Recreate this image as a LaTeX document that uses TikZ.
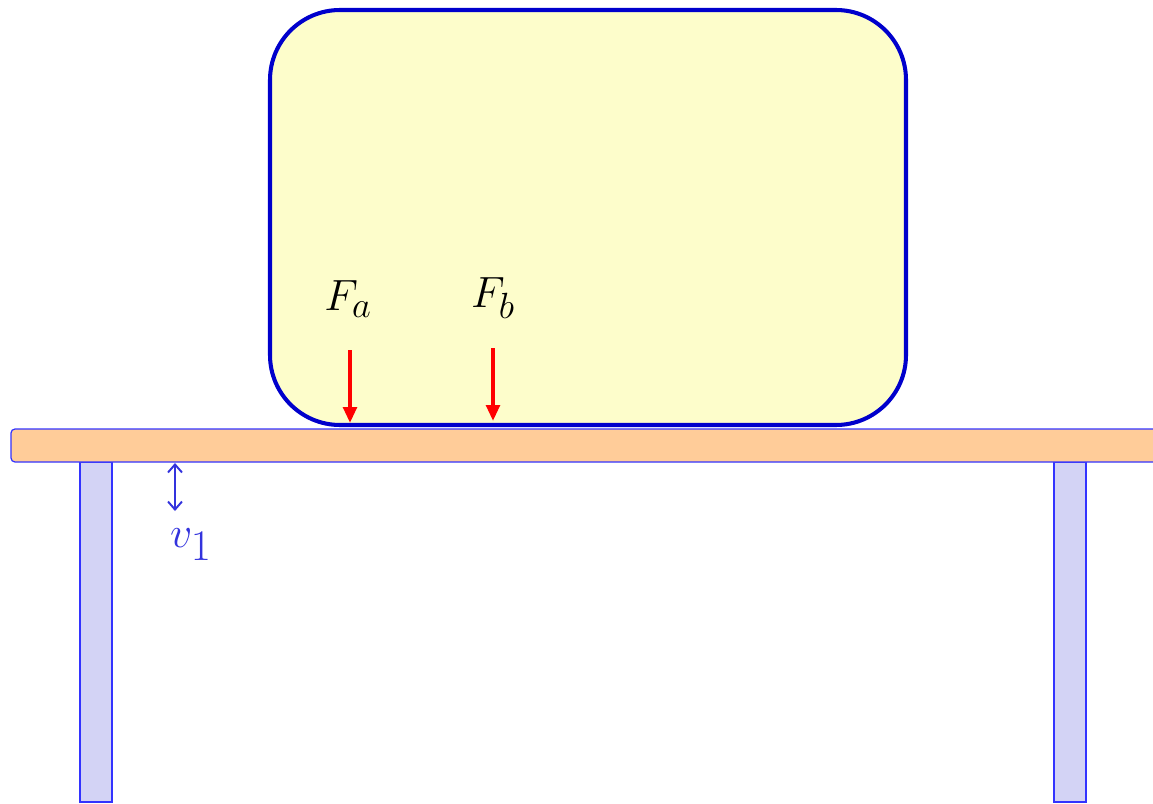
\documentclass[tikz,border=0pt]{standalone}
\usepackage{amsmath,amssymb}
\usepackage{xcolor}
\usepackage{tikz}
\usetikzlibrary{calc,arrows.meta,positioning}
\definecolor{boxc}{HTML}{0000CC}
\definecolor{boxbg}{HTML}{FDFDCB}
\definecolor{topc}{HTML}{FFCC99}
\definecolor{legc}{HTML}{D3D3F5}
\definecolor{edgec}{HTML}{3333FF}
\definecolor{forcec}{HTML}{FF0000}
\definecolor{labc}{HTML}{3333DD}
\tikzset{
  load/.style={draw=boxc,line width=2.3pt,fill=boxbg,rounded corners=1.4cm},
  plank/.style={draw=edgec,line width=0.7pt,fill=topc,rounded corners=0.08cm},
  leg/.style={draw=edgec,line width=0.9pt,fill=legc},
  force/.style={-{Triangle[length=3.2mm,width=2.7mm]},line width=2.2pt,forcec},
  gap/.style={{Straight Barb[length=1.6mm,width=2.8mm]}-{Straight Barb[length=1.6mm,width=2.8mm]},line width=1.1pt,labc},
  lab/.style={font=\fontsize{29}{34}\selectfont,inner sep=0pt}
}
\begin{document}
\begin{tikzpicture}
\useasboundingbox (0,0) rectangle (23.06,-16.08);
% legs
\draw[leg] (1.6,-9.24) rectangle (2.24,-16.04);
\draw[leg] (21.08,-9.24) rectangle (21.72,-16.04);
% table top
\draw[plank] (0.22,-8.58) rectangle (23.4,-9.24);
% block resting on the table
\draw[load] (5.4,-0.2) rectangle (18.12,-8.5);
% forces
\coordinate (fa0) at (7.0,-7.0);
\coordinate (fa1) at (7.0,-8.46);
\coordinate (fb0) at (9.86,-6.96);
\coordinate (fb1) at (9.86,-8.42);
\draw[force] (fa0)--(fa1);
\draw[force] (fb0)--(fb1);
\node[lab] (Fa) at (6.96,-5.98) {$F_a$};
\node[lab] (Fb) at (9.86,-5.96) {$F_b$};
% deflection
\coordinate (v0) at (3.5,-9.26);
\coordinate (v1) at (3.5,-10.22);
\draw[gap] (v0)--(v1);
\node[lab,labc,font=\fontsize{35}{40}\selectfont] (V) at (3.82,-10.9) {$v_1$};
\end{tikzpicture}
\end{document}
